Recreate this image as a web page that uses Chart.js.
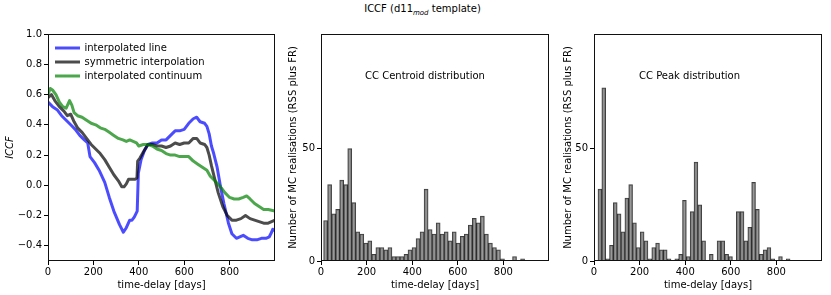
<!DOCTYPE html>
<html>
  <style>
    body {
      margin: 0;
      font-family: "DejaVu Sans", sans-serif;
      background: #fff;
    }
    .wrap {
      position: relative;
      width: 831px;
      height: 295px;
    }
    .wrap canvas {
      position: absolute;
      top: 0;
    }
    .title {
      position: absolute;
      top: 3px;
      left: 0;
      width: 845px;
      text-align: center;
      font-size: 10px;
      color: #000;
    }
    .title sub {
      font-size: 7px;
      font-style: italic;
    }
  </style>
<head>
  <title>ICCF</title>
  <script src="https://cdn.jsdelivr.net/npm/chart.js"></script>
</head>
<body>
  <div class="wrap">
    <div class="title">ICCF (d11<sub>mod</sub> template)</div>
    <canvas id="iccfChart" width="285" height="295" style="left:0px"></canvas>
    <canvas id="centroidChart" width="275" height="295" style="left:285px"></canvas>
    <canvas id="peakChart" width="271" height="295" style="left:560px"></canvas>
  </div>

  <script>
    // ticks
    const lagTicks = [0, 200, 400, 600, 800];
    const iccfTicks = [-0.4, -0.2, 0.0, 0.2, 0.4, 0.6, 0.8, 1.0];
    const countTicks = [0, 50];

    // ICCF curves (lag in days)
    const lineDays = [0, 20, 40, 60, 80, 100, 120, 140, 160, 175, 185, 205, 225, 250, 270, 290, 315, 332, 345, 360, 370, 380, 393, 398, 410, 425, 440, 460, 480, 500, 520, 540, 560, 580, 600, 620, 640, 655, 670, 690, 700, 710, 720, 730, 745, 760, 775, 795, 810, 830, 845, 860, 880, 900, 920, 940, 960, 975, 985, 990, 1000];
    const lineIccf = [0.55, 0.52, 0.50, 0.46, 0.43, 0.40, 0.37, 0.33, 0.30, 0.28, 0.19, 0.15, 0.10, 0.02, -0.08, -0.17, -0.26, -0.31, -0.28, -0.23, -0.23, -0.21, -0.17, 0.08, 0.17, 0.23, 0.27, 0.28, 0.28, 0.30, 0.30, 0.33, 0.36, 0.36, 0.37, 0.41, 0.44, 0.45, 0.42, 0.41, 0.39, 0.34, 0.26, 0.21, 0.12, -0.01, -0.12, -0.25, -0.32, -0.35, -0.34, -0.33, -0.35, -0.36, -0.36, -0.35, -0.35, -0.34, -0.31, -0.29, -0.30];

    const symDays = [0, 15, 30, 50, 70, 85, 100, 115, 130, 150, 170, 190, 210, 230, 250, 270, 290, 310, 325, 335, 345, 355, 370, 385, 392, 395, 405, 420, 440, 460, 480, 500, 520, 540, 560, 580, 600, 620, 640, 655, 670, 690, 700, 710, 720, 735, 750, 770, 790, 810, 830, 850, 870, 890, 910, 930, 950, 970, 985, 1000];
    const symIccf = [0.58, 0.60, 0.56, 0.52, 0.49, 0.46, 0.47, 0.42, 0.38, 0.35, 0.31, 0.27, 0.24, 0.21, 0.17, 0.12, 0.07, 0.03, -0.01, -0.01, 0.01, 0.04, 0.04, 0.04, 0.05, 0.16, 0.18, 0.22, 0.27, 0.27, 0.26, 0.26, 0.25, 0.26, 0.28, 0.27, 0.28, 0.28, 0.31, 0.31, 0.28, 0.27, 0.25, 0.20, 0.13, 0.04, -0.05, -0.14, -0.20, -0.23, -0.23, -0.22, -0.20, -0.22, -0.23, -0.24, -0.25, -0.25, -0.24, -0.23];

    const contDays = [0, 10, 20, 35, 50, 65, 80, 95, 105, 115, 130, 150, 170, 190, 210, 230, 250, 270, 290, 310, 330, 345, 360, 375, 390, 400, 420, 440, 460, 480, 500, 520, 540, 560, 580, 600, 620, 640, 660, 680, 700, 715, 735, 760, 780, 800, 820, 840, 860, 875, 890, 910, 930, 950, 970, 1000];
    const contIccf = [0.60, 0.64, 0.63, 0.60, 0.55, 0.52, 0.51, 0.56, 0.53, 0.48, 0.46, 0.45, 0.43, 0.41, 0.40, 0.38, 0.37, 0.35, 0.33, 0.31, 0.30, 0.29, 0.30, 0.29, 0.28, 0.26, 0.27, 0.27, 0.26, 0.24, 0.23, 0.21, 0.20, 0.20, 0.19, 0.19, 0.19, 0.16, 0.14, 0.12, 0.10, 0.06, 0.03, -0.01, -0.05, -0.08, -0.09, -0.09, -0.08, -0.07, -0.09, -0.12, -0.14, -0.16, -0.16, -0.17];

    // MC histograms, 50 bins each
    const centroidFirstEdge = 11.4;
    const centroidBinWidth = 17.63;
    const centroidCounts = [18, 34, 21, 23, 36, 34, 50, 26, 13, 12, 8, 9, 3, 6, 6, 5, 6, 2, 2, 2, 3, 5, 6, 10, 13, 32, 14, 12, 17, 12, 13, 9, 13, 8, 11, 12, 16, 19, 17, 20, 12, 8, 6, 5, 1, 0, 0, 2, 0, 1];

    const peakFirstEdge = 17.5;
    const peakBinWidth = 16.85;
    const peakCounts = [32, 77, 1, 7, 26, 21, 13, 28, 34, 17, 6, 13, 9, 1, 6, 8, 5, 5, 1, 0, 1, 3, 27, 2, 22, 44, 25, 9, 0, 3, 0, 9, 9, 3, 2, 0, 22, 22, 9, 15, 35, 23, 3, 5, 6, 1, 0, 2, 0, 1];

    Chart.defaults.font.family = '"DejaVu Sans", sans-serif';
    Chart.defaults.font.size = 10;
    Chart.defaults.color = '#000';

    // matplotlib style box around the plot + optional text note
    const panelFrame = {
      id: 'panelFrame',
      afterDraw(chart, args, opts) {
        const ctx = chart.ctx;
        const a = chart.chartArea;
        ctx.save();
        ctx.strokeStyle = '#111';
        ctx.lineWidth = 1;
        ctx.strokeRect(Math.round(a.left) + 0.5, Math.round(a.top) + 0.5,
          Math.round(a.right - a.left) - 1, Math.round(a.bottom - a.top) - 1);
        if (opts.note) {
          ctx.fillStyle = '#000';
          ctx.font = '10px "DejaVu Sans"';
          ctx.textAlign = 'center';
          ctx.textBaseline = 'middle';
          ctx.fillText(opts.note, a.left + opts.noteX * (a.right - a.left), a.top + opts.noteY * (a.bottom - a.top));
        }
        ctx.restore();
      }
    };

    // legend drawn inside the plot, top left
    const insideLegend = {
      id: 'insideLegend',
      afterDraw(chart, args, opts) {
        if (!opts.show) return;
        const ctx = chart.ctx;
        const a = chart.chartArea;
        ctx.save();
        chart.data.datasets.forEach((ds, i) => {
          const y = a.top + 14 + i * 14;
          ctx.strokeStyle = ds.borderColor;
          ctx.lineWidth = 3;
          ctx.beginPath();
          ctx.moveTo(a.left + 7, y);
          ctx.lineTo(a.left + 32, y);
          ctx.stroke();
          ctx.fillStyle = '#000';
          ctx.font = '10px "DejaVu Sans"';
          ctx.textBaseline = 'middle';
          ctx.fillText(ds.label, a.left + 36.5, y);
        });
        ctx.restore();
      }
    };

    function toPoints(xs, ys) {
      return xs.map((x, i) => ({ x: x, y: ys[i] }));
    }

    function binPoints(firstEdge, width, counts) {
      return counts.map((c, i) => ({ x: firstEdge + (i + 0.5) * width, y: c }));
    }

    function fmtMinus(v, digits) {
      return v.toFixed(digits).replace('-', '\u2212');
    }

    function xAxis() {
      return {
        type: 'linear',
        min: 0,
        max: 1000,
        offset: false,
        afterBuildTicks: axis => { axis.ticks = lagTicks.map(v => ({ value: v })); },
        afterFit: axis => { axis.height = 34; },
        ticks: { padding: 1, maxRotation: 0, autoSkip: false, callback: v => String(v) },
        grid: { drawOnChartArea: false, drawTicks: true, tickLength: 4, color: '#000', offset: false },
        border: { display: false },
        title: { display: true, text: 'time-delay [days]', padding: { top: 0, bottom: 4 } }
      };
    }

    function renderIccf() {
      const ctx = document.getElementById('iccfChart').getContext('2d');
      new Chart(ctx, {
        type: 'line',
        data: {
          datasets: [
            { label: 'interpolated line', data: toPoints(lineDays, lineIccf), borderColor: 'rgba(0, 0, 255, 0.7)', order: 3 },
            { label: 'symmetric interpolation', data: toPoints(symDays, symIccf), borderColor: 'rgba(0, 0, 0, 0.7)', order: 2 },
            { label: 'interpolated continuum', data: toPoints(contDays, contIccf), borderColor: 'rgba(0, 128, 0, 0.7)', order: 1 }
          ]
        },
        options: {
          responsive: false,
          animation: false,
          layout: { padding: { top: 34, right: 10, left: 0, bottom: 0 } },
          elements: {
            line: { borderWidth: 3, tension: 0, borderCapStyle: 'round', borderJoinStyle: 'round' },
            point: { radius: 0 }
          },
          scales: {
            x: xAxis(),
            y: {
              min: -0.5,
              max: 1.0,
              afterBuildTicks: axis => { axis.ticks = iccfTicks.map(v => ({ value: v })); },
              afterFit: axis => { axis.width = 48; },
              ticks: { padding: 2, callback: v => fmtMinus(v, 1) },
              grid: { drawOnChartArea: false, drawTicks: true, tickLength: 4, color: '#000' },
              border: { display: false },
              title: { display: true, text: 'ICCF', font: { style: 'italic' }, padding: { top: 4, bottom: 0 } }
            }
          },
          plugins: {
            legend: { display: false },
            tooltip: { enabled: false },
            insideLegend: { show: true },
            panelFrame: {}
          }
        },
        plugins: [panelFrame, insideLegend]
      });
    }

    function renderHist(id, points, yAxisWidth, rightPad, note, noteX) {
      const ctx = document.getElementById(id).getContext('2d');
      new Chart(ctx, {
        type: 'bar',
        data: {
          datasets: [{
            data: points,
            backgroundColor: 'rgba(128, 128, 128, 0.8)',
            borderColor: 'rgba(0, 0, 0, 0.75)',
            borderWidth: 1,
            barPercentage: 1.0,
            categoryPercentage: 1.0
          }]
        },
        options: {
          responsive: false,
          animation: false,
          layout: { padding: { top: 34, right: rightPad, left: 0, bottom: 0 } },
          scales: {
            x: xAxis(),
            y: {
              min: 0,
              max: 101,
              afterBuildTicks: axis => { axis.ticks = countTicks.map(v => ({ value: v })); },
              afterFit: axis => { axis.width = yAxisWidth; },
              ticks: { padding: 2, callback: v => String(v) },
              grid: { drawOnChartArea: false, drawTicks: true, tickLength: 4, color: '#000' },
              border: { display: false },
              title: { display: true, text: 'Number of MC realisations (RSS plus FR)', padding: { top: 2, bottom: 0 } }
            }
          },
          plugins: {
            legend: { display: false },
            tooltip: { enabled: false },
            panelFrame: { note: note, noteX: noteX, noteY: 0.188 }
          }
        },
        plugins: [panelFrame]
      });
    }

    document.addEventListener('DOMContentLoaded', () => {
      renderIccf();
      renderHist('centroidChart', binPoints(centroidFirstEdge, centroidBinWidth, centroidCounts), 36, 11, 'CC Centroid distribution', 0.456);
      renderHist('peakChart', binPoints(peakFirstEdge, peakBinWidth, peakCounts), 34, 9, 'CC Peak distribution', 0.419);
    });
  </script>
</body>
</html>
